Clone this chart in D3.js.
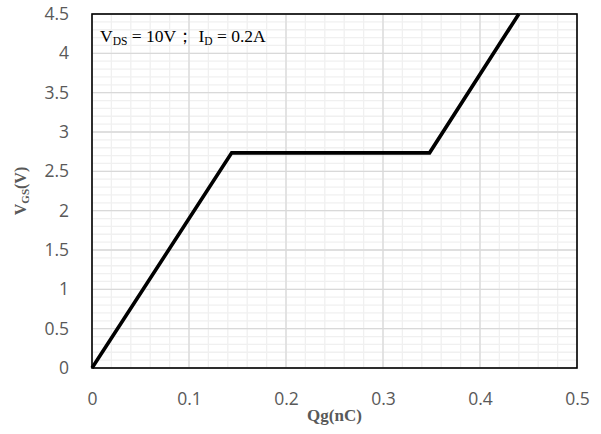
<!DOCTYPE html>
<html>
<head>
<meta charset="utf-8">
<script src="https://cdn.jsdelivr.net/npm/d3@7"></script>
<style>
  body { margin: 0; background: #fff; }
</style>
</head>
<body>
<svg id="chart"></svg>
<script>
// gate charge curve
const qg = [0, 0.144, 0.348, 0.44]
const vgs = [0, 2.735, 2.735, 4.5]
const xTicks = [0, 0.1, 0.2, 0.3, 0.4, 0.5]
const yTicks = [0, 0.5, 1, 1.5, 2, 2.5, 3, 3.5, 4, 4.5]

const width = 601, height = 434
const margin = {top: 14, right: 24, bottom: 66, left: 92}

const svg = d3.select('#chart')
    .attr('width', width)
    .attr('height', height)

const x = d3.scaleLinear()
    .domain([0, 0.5])
    .range([margin.left, width - margin.right])

const y = d3.scaleLinear()
    .domain([0, 4.5])
    .range([height - margin.bottom, margin.top])

// minor grid
const minorX = d3.range(0, 0.5001, 0.02)
const minorY = d3.range(0, 4.5001, 0.1)

svg.append('g')
    .selectAll('line')
    .data(minorX)
    .join('line')
        .attr('x1', d => x(d)).attr('x2', d => x(d))
        .attr('y1', y(0)).attr('y2', y(4.5))
        .attr('stroke', '#f0f0f0')
        .attr('stroke-width', 1.3)

svg.append('g')
    .selectAll('line')
    .data(minorY)
    .join('line')
        .attr('x1', x(0)).attr('x2', x(0.5))
        .attr('y1', d => y(d)).attr('y2', d => y(d))
        .attr('stroke', '#f0f0f0')
        .attr('stroke-width', 1.3)

// major grid
svg.append('g')
    .selectAll('line')
    .data(xTicks)
    .join('line')
        .attr('x1', d => x(d)).attr('x2', d => x(d))
        .attr('y1', y(0)).attr('y2', y(4.5))
        .attr('stroke', '#d9d9d9')
        .attr('stroke-width', 1.3)

svg.append('g')
    .selectAll('line')
    .data(yTicks)
    .join('line')
        .attr('x1', x(0)).attr('x2', x(0.5))
        .attr('y1', d => y(d)).attr('y2', d => y(d))
        .attr('stroke', '#d9d9d9')
        .attr('stroke-width', 1.3)

// axes (labels only)
const xAxis = g => g
    .attr('transform', `translate(0,${height - margin.bottom})`)
    .call(d3.axisBottom(x).tickValues(xTicks).tickFormat(d3.format('')).tickSize(0).tickPadding(25))
    .call(g => g.select('.domain').remove())
    .selectAll('text')
        .style('font-family', "'Open Sans', sans-serif")
        .style('font-size', '17.5px')
        .attr('fill', '#595959')

const yAxis = g => g
    .attr('transform', `translate(${margin.left},0)`)
    .call(d3.axisLeft(y).tickValues(yTicks).tickFormat(d3.format('')).tickSize(0).tickPadding(23))
    .call(g => g.select('.domain').remove())
    .selectAll('text')
        .style('font-family', "'Open Sans', sans-serif")
        .style('font-size', '17.5px')
        .attr('fill', '#595959')

svg.append('g').call(xAxis)
svg.append('g').call(yAxis)

// frame
svg.append('rect')
    .attr('x', x(0)).attr('y', y(4.5))
    .attr('width', x(0.5) - x(0))
    .attr('height', y(0) - y(4.5))
    .attr('fill', 'none')
    .attr('stroke', '#000')
    .attr('stroke-width', 1.6)

// curve
const line = d3.line()
    .x((d, i) => x(qg[i]))
    .y(d => y(d))

svg.append('path')
    .datum(vgs)
    .attr('d', line)
    .attr('fill', 'none')
    .attr('stroke', '#000')
    .attr('stroke-width', 3.6)
    .attr('stroke-linejoin', 'miter')

// annotation
const note = svg.append('text')
    .attr('x', x(0) + 8)
    .attr('y', 42)
    .style('font-family', "'Liberation Serif', serif")
    .style('font-size', '17.5px')
    .attr('fill', '#000')
note.append('tspan').text('V')
note.append('tspan').text('DS').attr('dy', 3).style('font-size', '11.5px')
note.append('tspan').text(' = 10V；  I').attr('dy', -3)
note.append('tspan').text('D').attr('dy', 3).style('font-size', '11.5px')
note.append('tspan').text(' = 0.2A').attr('dy', -3)

// axis titles
svg.append('text')
    .attr('x', (x(0) + x(0.5)) / 2)
    .attr('y', 421)
    .attr('text-anchor', 'middle')
    .style('font-family', "'Liberation Serif', serif")
    .style('font-size', '17px')
    .style('font-weight', 'bold')
    .attr('fill', '#595959')
    .text('Qg(nC)')

const yt = svg.append('text')
    .attr('transform', `translate(26,${(y(0) + y(4.5)) / 2}) rotate(-90)`)
    .attr('text-anchor', 'middle')
    .style('font-family', "'Liberation Serif', serif")
    .style('font-size', '16px')
    .style('font-weight', 'bold')
    .attr('fill', '#595959')
yt.append('tspan').text('V')
yt.append('tspan').text('GS').attr('dy', 3).style('font-size', '11px')
yt.append('tspan').text('(V)').attr('dy', -3)
</script>
</body>
</html>
